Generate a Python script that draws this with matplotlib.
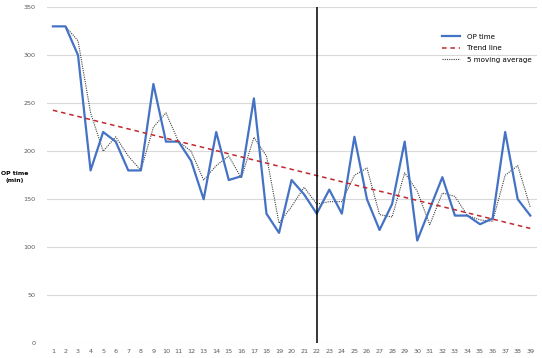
import matplotlib
matplotlib.use("Agg")
import matplotlib.pyplot as plt
import numpy as np
import pandas as pd

# case number (x categories) and operation time in minutes
cases = list(range(1, 40))
op_time = [330, 330, 300, 180, 220, 210, 180, 180, 270, 210,
           210, 190, 150, 220, 170, 174, 255, 135, 115, 170,
           155, 135, 160, 135, 215, 150, 118, 145, 210, 107,
           140, 173, 133, 133, 124, 130, 220, 150, 133]
split_case = 22
y_ticks = [0, 50, 100, 150, 200, 250, 300, 350]

x = np.array(cases)
y = np.array(op_time)

# linear trend + moving average (the chart's MA uses a 2 point window)
slope, icpt = np.polyfit(x, y, 1)
trend = slope * x + icpt
mov_avg = pd.Series(y).rolling(2).mean()

fig = plt.figure(figsize=(5.42, 3.58), dpi=100)
ax = fig.add_axes([0.086, 0.041, 0.904, 0.939])

ax.plot(x, y, color="#4472C4", lw=1.6, label="OP time", zorder=3)
ax.plot(x, trend, color="#C0282D", lw=1.1, ls=(0, (3, 2.5)), label="Trend line", zorder=4)
ax.plot(x, mov_avg, color="#404040", lw=0.8, ls=(0, (1, 1)), label="5 moving average", zorder=2)
ax.axvline(split_case, color="black", lw=1.1, zorder=5)

ax.set_xlim(0.5, 39.5)
ax.set_ylim(0, 350)
ax.set_yticks(y_ticks)
ax.set_xticks(cases)
ax.grid(axis="y", color="#D9D9D9", lw=0.8)
ax.set_axisbelow(True)
for s in ax.spines.values():
    s.set_visible(False)
ax.tick_params(length=0, labelsize=4.6, colors="#595959")
ax.tick_params(axis="y", pad=8)
ax.tick_params(axis="x", pad=4)

fig.text(0.027, 0.505, "OP time\n(min)", ha="center", va="center",
         fontsize=4.4, fontweight="bold", linespacing=1.5)

ax.legend(loc="upper left", bbox_to_anchor=(0.797, 0.935), frameon=False,
          fontsize=5.1, handlelength=2.6, handletextpad=0.9, labelspacing=0.75,
          borderpad=0.2)

fig.savefig("out.png", dpi=100)
